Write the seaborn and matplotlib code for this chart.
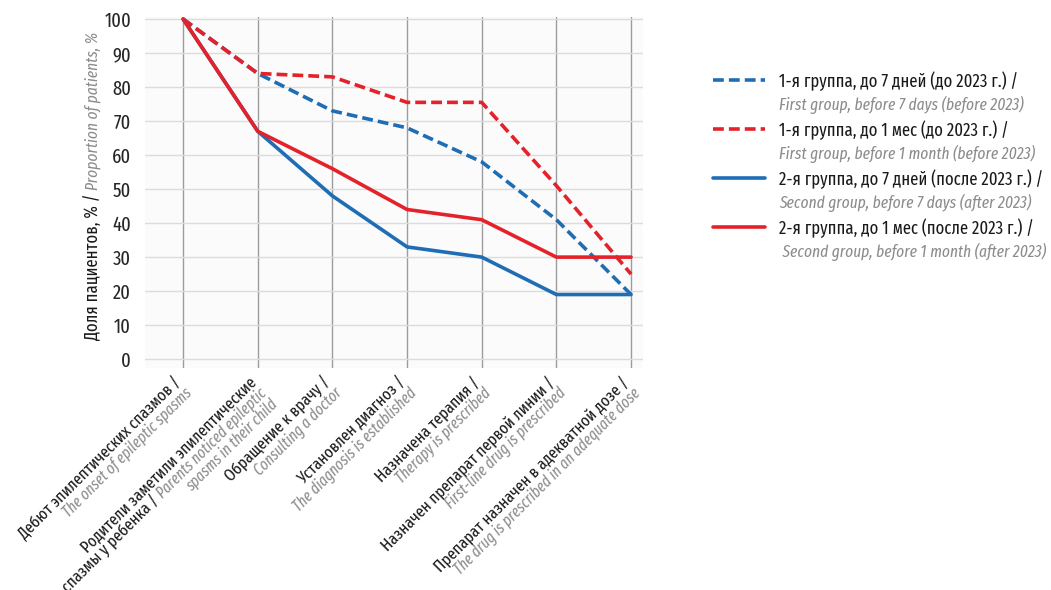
import numpy as np
import pandas as pd
import matplotlib
matplotlib.use("Agg")
import matplotlib.pyplot as plt
import matplotlib.transforms as mtransforms
from matplotlib import font_manager as fm
from matplotlib.lines import Line2D
import seaborn as sns

# --- data -----------------------------------------------------------------
stage_idx = [0, 1, 2, 3, 4, 5, 6]

stage_labels = [
    [[("Дебют эпилептических спазмов /", "ru")],
     [("The onset of epileptic spasms", "en")]],
    [[("Родители заметили эпилептические", "ru")],
     [("спазмы у ребенка / ", "ru"), ("Parents noticed epileptic", "en")],
     [("spasms in their child", "en")]],
    [[("Обращение к врачу /", "ru")],
     [("Consulting a doctor", "en")]],
    [[("Установлен диагноз /", "ru")],
     [("The diagnosis is established", "en")]],
    [[("Назначена терапия /", "ru")],
     [("Therapy is prescribed", "en")]],
    [[("Назначен препарат первой линии /", "ru")],
     [("First-line drug is prescribed", "en")]],
    [[("Препарат назначен в адекватной дозе /", "ru")],
     [("The drug is prescribed in an adequate dose", "en")]],
]

series_ru = ["1-я группа, до 7 дней (до 2023 г.) /",
             "1-я группа, до 1 мес (до 2023 г.) /",
             "2-я группа, до 7 дней (после 2023 г.) /",
             "2-я группа, до 1 мес (после 2023 г.) /"]
series_en = ["First group, before 7 days (before 2023)",
             "First group, before 1 month (before 2023)",
             "Second group, before 7 days (after 2023)",
             " Second group, before 1 month (after 2023)"]

g1_7d = [100, 84, 73, 68, 58, 41, 19]
g1_1m = [100, 84, 83, 75.5, 75.5, 51, 25]
g2_7d = [100, 67, 48, 33, 30, 19, 19]
g2_1m = [100, 67, 56, 44, 41, 30, 30]

ylabel_parts = [("Доля пациентов, % / ", "ru"), ("Proportion of patients, %", "en")]

BLUE = "#1f6db4"
RED = "#e4222b"

df = pd.DataFrame({
    "stage": stage_idx * 4,
    "value": g1_7d + g1_1m + g2_7d + g2_1m,
    "series": sum([[s] * 7 for s in series_ru], []),
})

# --- figure ---------------------------------------------------------------
sns.set_style("white")
have = {f.name for f in fm.fontManager.ttflist}
wanted = ["Fira Sans Extra Condensed", "Fira Sans Condensed", "Roboto Condensed",
          "PT Sans Narrow", "Archivo Narrow"]
FONT = next((f for f in wanted if f in have), "DejaVu Sans")
plt.rcParams["font.family"] = [FONT, "DejaVu Sans"]
FS = 13 if FONT == "Fira Sans Extra Condensed" else 11.8
FS_EN = FS * 0.93

W, H = 1051, 590
fig = plt.figure(figsize=(W / 100, H / 100), dpi=100)
ax = fig.add_axes([145 / W, (H - 368) / H, 498 / W, (368 - 17) / H])

sns.lineplot(data=df, x="stage", y="value", hue="series", style="series",
             hue_order=series_ru, style_order=series_ru,
             palette=[BLUE, RED, BLUE, RED],
             dashes={series_ru[0]: (3, 1.4), series_ru[1]: (3, 1.4),
                     series_ru[2]: "", series_ru[3]: ""},
             linewidth=2.6, legend=False, ax=ax)

ax.set_facecolor("#fbfbfb")
ax.set_xlim(-0.51, 6.16)
ax.set_ylim(-2.6, 100.6)
ax.set_yticks(range(0, 101, 10))
ax.set_xticks(stage_idx)
ax.set_xticklabels([])
ax.set_xlabel("")
ax.set_ylabel("")
ax.set_axisbelow(True)
ax.yaxis.grid(True, color="#dcdcdc", lw=1)
ax.xaxis.grid(True, color="#9c9c9c", lw=1)
ax.tick_params(length=0, labelsize=FS + 1.5, pad=10)
for s in ax.spines.values():
    s.set_visible(False)

STYLE = {"ru": dict(color="#1a1a1a", fontsize=FS),
         "en": dict(color="#8c8c8c", fontsize=FS_EN, fontstyle="italic")}

renderer = fig.canvas.get_renderer()
ident = mtransforms.IdentityTransform()


def props(kind, scale):
    p = dict(STYLE[kind])
    p["fontsize"] = p["fontsize"] * scale
    return p


def text_w(s, kind, scale=1.0):
    t = fig.text(0, 0, s, **props(kind, scale))
    w = t.get_window_extent(renderer).width
    t.remove()
    return w


def put_line(x0, y0, parts, angle, scale=1.0):
    ux, uy = np.cos(np.radians(angle)), np.sin(np.radians(angle))
    x, y = x0, y0
    for s, k in parts:
        fig.text(x, y, s, transform=ident, rotation=angle, rotation_mode="anchor",
                 ha="left", va="baseline", **props(k, scale))
        w = text_w(s, k, scale)
        x += w * ux
        y += w * uy


# x tick labels, rotated 45, right aligned at the tick
ang = 45
xs = 0.94
ux, uy = np.cos(np.radians(ang)), np.sin(np.radians(ang))
lh = 15.5
for i, lines in zip(stage_idx, stage_labels):
    tx, ty = ax.transData.transform((i, ax.get_ylim()[0]))
    for j, parts in enumerate(lines):
        ex = tx - 1 + j * lh * uy
        ey = ty - 15 - j * lh * ux
        total = sum(text_w(s, k, xs) for s, k in parts)
        put_line(ex - total * ux, ey - total * uy, parts, ang, xs)

# y label, centred on the plot height
ylen = sum(text_w(s, k) for s, k in ylabel_parts)
put_line(98, H - 186 - ylen / 2, ylabel_parts, 90)

# legend
handles, labels = [], []
for line, ru, en in zip(ax.lines[:4], series_ru, series_en):
    handles += [line, Line2D([], [], color="none")]
    labels += [ru, en]
leg = ax.legend(handles, labels, loc="upper left",
                bbox_to_anchor=(713 / W, 1 - 71 / H), bbox_transform=fig.transFigure,
                frameon=False, fontsize=FS, handlelength=2.9, handletextpad=0.75,
                labelspacing=0.31, borderpad=0, borderaxespad=0)
for k, t in enumerate(leg.get_texts()):
    if k % 2:
        t.set_color("#8c8c8c")
        t.set_fontstyle("italic")
        t.set_fontsize(FS_EN)
    else:
        t.set_color("#1a1a1a")

fig.savefig("out.png", dpi=100)
